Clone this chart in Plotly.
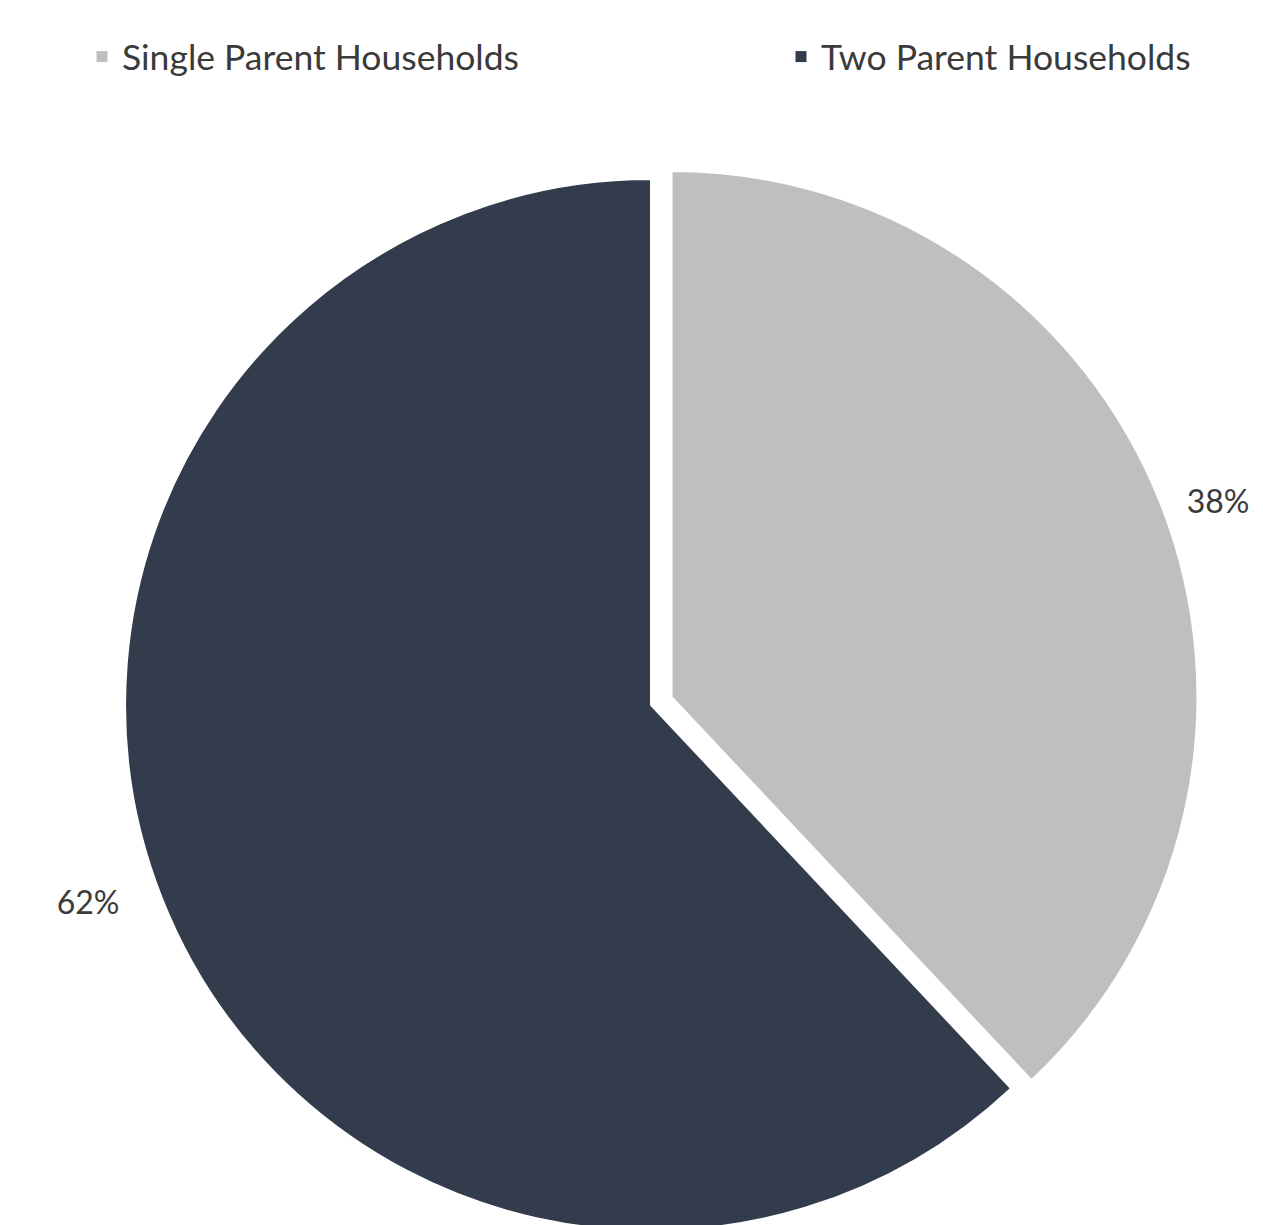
import plotly.graph_objects as go

categories = ["Single Parent Households", "Two Parent Households"]
values = [38, 62]
colors = ["#BFBFBF", "#323C4D"]
label_templates = ["\u00a0\u00a0%{percent:.0%}",
                   "%{percent:.0%}\u00a0\u00a0\u00a0\u00a0"]

# page has an 8px body margin, so figure coordinates = page coordinates - 8
W, H = 1263, 1245
top = 149
plot_h = H - top
pull = 0.042
cx = 643
x0 = (cx - plot_h / 2) / W
x1 = (cx + plot_h / 2) / W

TEXT = "#3A3A3A"

fig = go.Figure()
fig.add_trace(
    go.Pie(
        labels=categories,
        values=values,
        sort=False,
        direction="clockwise",
        rotation=0,
        pull=[pull, 0],
        marker=dict(colors=colors, line=dict(color="white", width=2)),
        texttemplate=label_templates,
        textposition="outside",
        textfont=dict(family="Lato", size=32, color=TEXT),
        domain=dict(x=[x0, x1], y=[0, 1]),
        hoverinfo="label+percent",
        showlegend=False,
    )
)

legend_ids = ["legend", "legend2"]
for name, col, lid in zip(categories, colors, legend_ids):
    fig.add_trace(
        go.Scatter(
            x=[None], y=[None], mode="markers", name=name,
            marker=dict(symbol="square", size=11, color=col),
            legend=lid, showlegend=True, hoverinfo="skip",
        )
    )

leg_y = 1 + (top - 49) / plot_h
legend_font = dict(family="Lato", size=35.5, color=TEXT)
fig.update_layout(
    width=W,
    height=H,
    margin=dict(l=0, r=0, t=top, b=0, autoexpand=False),
    paper_bgcolor="white",
    plot_bgcolor="white",
    xaxis=dict(visible=False),
    yaxis=dict(visible=False),
    legend=dict(x=74 / W, xanchor="left", y=leg_y, yanchor="middle",
                font=legend_font, bgcolor="rgba(0,0,0,0)"),
    legend2=dict(x=773 / W, xanchor="left", y=leg_y, yanchor="middle",
                 font=legend_font, bgcolor="rgba(0,0,0,0)"),
)

fig.write_html("out.html")
